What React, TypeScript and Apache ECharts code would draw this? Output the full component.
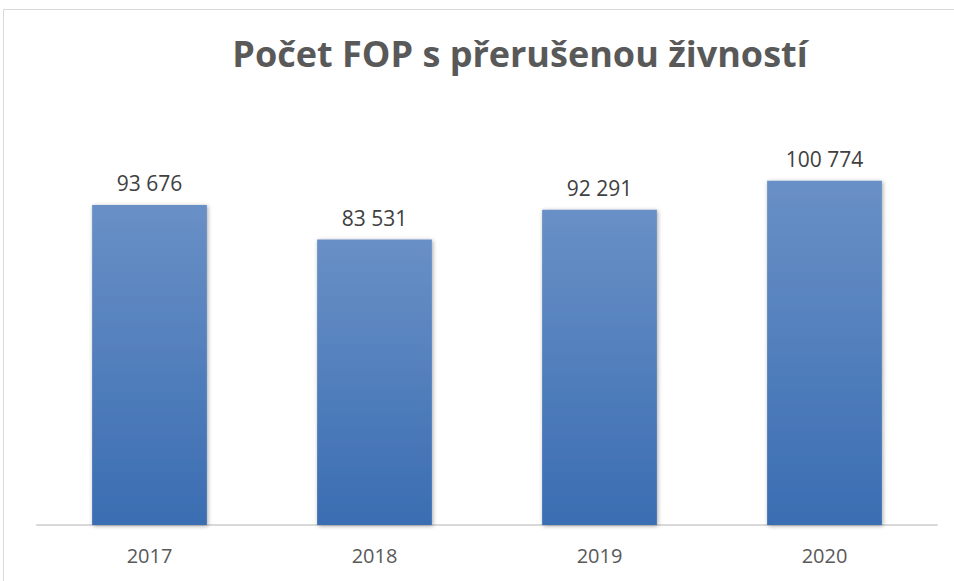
import React, { useEffect, useRef } from "react";
import * as echarts from "echarts";

const titleText = "Počet FOP s přerušenou živností";
const categories = ["2017", "2018", "2019", "2020"];
const values = [93676, 83531, 92291, 100774];

const fmt = (v: number) => String(v).replace(/\B(?=(\d{3})+(?!\d))/g, " ");

export default function App() {
  const ref = useRef<HTMLDivElement>(null);
  useEffect(() => {
    if (!ref.current) return;
    const chart = echarts.init(ref.current, null, { renderer: "svg" });
    chart.setOption({
      animation: false,
      backgroundColor: "#ffffff",
      title: {
        text: titleText,
        left: 515,
        top: 30,
        textAlign: "center",
        textStyle: {
          fontFamily: "Open Sans",
          fontWeight: "bold",
          fontSize: 36,
          color: "#595959",
        },
      },
      graphic: [
        {
          type: "rect",
          shape: { x: 3.5, y: 9.5, width: 1000, height: 1000 },
          style: { fill: "none", stroke: "#d9d9d9", lineWidth: 1 },
          silent: true,
        },
      ],
      grid: { left: 37, right: 17, top: 115, bottom: 56 },
      xAxis: {
        type: "category",
        data: categories,
        axisLine: { lineStyle: { color: "#d9d9d9", width: 2 } },
        axisTick: { show: false },
        axisLabel: {
          fontFamily: "Open Sans",
          fontSize: 20,
          color: "#595959",
          margin: 20,
        },
      },
      yAxis: {
        type: "value",
        min: 0,
        max: 120000,
        show: false,
        splitLine: { show: false },
      },
      series: [
        {
          type: "bar",
          data: values,
          barWidth: "51%",
          itemStyle: {
            color: new echarts.graphic.LinearGradient(0, 0, 0, 1, [
              { offset: 0, color: "#6990C6" },
              { offset: 1, color: "#3A6DB2" },
            ]),
            shadowBlur: 4,
            shadowColor: "rgba(0,0,0,0.35)",
            shadowOffsetX: 1,
            shadowOffsetY: 1,
          },
          label: {
            show: true,
            position: "top",
            distance: 11,
            fontFamily: "Open Sans",
            fontSize: 21,
            color: "#404040",
            formatter: (p: any) => fmt(p.value),
          },
        },
      ],
    });
    return () => chart.dispose();
  }, []);
  return (
    <div
      ref={ref}
      style={{ position: "absolute", left: 0, top: 0, width: 954, height: 581 }}
    />
  );
}
